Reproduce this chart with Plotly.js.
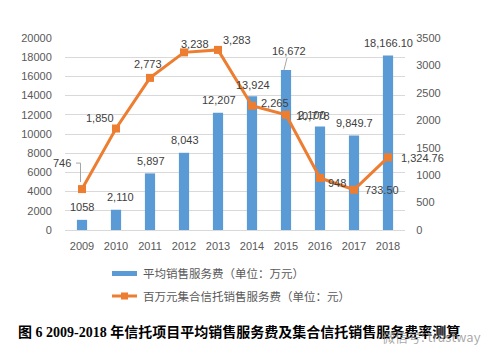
<!DOCTYPE html>
<html><head><meta charset="utf-8">
<script src="https://cdn.plot.ly/plotly-3.0.1.min.js"></script>
<style>html,body{margin:0;padding:0;background:#fff}#chart{width:504px;height:359px}</style>
</head><body><div id="chart"></div>
<script>
// ---- data ----
const years = ['2009','2010','2011','2012','2013','2014','2015','2016','2017','2018'];
const avgFee = [1058, 2110, 5897, 8043, 12207, 13924, 16672, 10778, 9849.7, 18166.10];
const avgFeeLabels = ['1058','2,110','5,897','8,043','12,207','13,924','16,672','10,778','9,849.7','18,166.10'];
const perMillionFee = [746, 1850, 2773, 3238, 3283, 2265, 2100, 948, 733.50, 1324.76];
const perMillionLabels = ['746','1,850','2,773','3,238','3,283','2,265','2,100','948','733.50','1,324.76'];
const leftTicks = [0,2000,4000,6000,8000,10000,12000,14000,16000,18000,20000];
const rightTicks = [0,500,1000,1500,2000,2500,3000,3500];
const barName = '平均销售服务费（单位：万元）';
const lineName = '百万元集合信托销售服务费（单位：元）';
const caption = '图 6 2009-2018 年信托项目平均销售服务费及集合信托销售服务费率测算';
const watermark = '微信号: trustway';

// ---- layout helpers (pixel -> paper) ----
const L = 65, R = 405, T = 38, B = 230;
const px = p => (p - L) / (R - L);
const py = p => (B - p) / (B - T);

const BLUE = '#5B9BD5', ORANGE = '#ED7D31', GRAY = '#595959', GRID = '#D9D9D9';
const numFont = {family: 'Liberation Sans, Arial, sans-serif', size: 11, color: '#404040'};

const barShift = [[0,13],[4,13],[1,12],[1,13],[1,13],[1,11],[3,19],[-7,11],[0,12],[0,13]];
const lineShift = [[-20,26],[-16,11],[-2,14],[11,8],[19,10],[23,3],[26,0],[17,-5],[28,0],[34,-1]];

const annotations = [];
years.forEach((yr, i) => {
  annotations.push({x: i, y: avgFee[i], xref: 'x', yref: 'y', text: avgFeeLabels[i],
    showarrow: false, xshift: barShift[i][0], yshift: barShift[i][1], font: numFont});
  annotations.push({x: i, y: perMillionFee[i], xref: 'x', yref: 'y2', text: perMillionLabels[i],
    showarrow: false, xshift: lineShift[i][0], yshift: lineShift[i][1], font: numFont});
});
// legend (custom)
const legFont = {family: 'Noto Sans CJK SC, sans-serif', size: 11.5, color: GRAY};
annotations.push({xref:'paper', yref:'paper', x: px(141), y: py(273), xanchor:'left', yanchor:'middle',
  text: barName, showarrow:false, font: legFont});
annotations.push({xref:'paper', yref:'paper', x: px(141), y: py(296), xanchor:'left', yanchor:'middle',
  text: lineName, showarrow:false, font: legFont});
// caption
annotations.push({xref:'paper', yref:'paper', x: px(16), y: py(332), xanchor:'left', yanchor:'middle',
  text: '<b>' + caption + '</b>', showarrow:false,
  font: {family: 'Liberation Serif, Noto Sans CJK SC, serif', size: 14, color: '#000'}});
annotations.push({xref:'paper', yref:'paper', x: px(380), y: py(336), xanchor:'left', yanchor:'middle',
  text: watermark, showarrow:false,
  font: {family: 'Noto Sans CJK SC, sans-serif', size: 13, color: 'rgba(140,140,140,0.75)'}});

const shapes = [
  // legend symbols
  {type:'rect', xref:'paper', yref:'paper', x0: px(112), x1: px(137), y0: py(276), y1: py(271),
    fillcolor: BLUE, line:{width:0}},
  {type:'line', xref:'paper', yref:'paper', x0: px(112), x1: px(137), y0: py(296), y1: py(296),
    line:{color: ORANGE, width:3}},
  {type:'rect', xref:'paper', yref:'paper', x0: px(121), x1: px(128), y0: py(299.5), y1: py(292.5),
    fillcolor: ORANGE, line:{width:0}},
  // leader line for 2009 line label
  {type:'line', xref:'x', yref:'y2', xsizemode:'pixel', ysizemode:'pixel', xanchor: 0, yanchor: perMillionFee[0],
    x0:-6, x1:-1.5, y0:26, y1:26, line:{color:'#A6A6A6', width:1}},
  {type:'line', xref:'x', yref:'y2', xsizemode:'pixel', ysizemode:'pixel', xanchor: 0, yanchor: perMillionFee[0],
    x0:-1.5, x1:-1.5, y0:26, y1:7, line:{color:'#A6A6A6', width:1}},
  // leader line for 2015 bar label
  {type:'line', xref:'x', yref:'y', xsizemode:'pixel', ysizemode:'pixel', xanchor: 6, yanchor: avgFee[6],
    x0:1, x1:-2, y0:12, y1:0, line:{color:'#A6A6A6', width:1}}
];

const traces = [
  {type:'bar', x: years, y: avgFee, name: barName, marker:{color: BLUE}, width: 0.3, yaxis:'y'},
  {type:'scatter', mode:'lines+markers', x: years, y: perMillionFee, name: lineName, yaxis:'y2',
    line:{color: ORANGE, width:3}, marker:{symbol:'square', size:8, color: ORANGE}}
];

const layout = {
  width: 504, height: 359,
  margin: {l: L, r: 504 - R, t: T, b: 359 - B, pad: 0},
  paper_bgcolor: '#fff', plot_bgcolor: '#fff',
  showlegend: false,
  font: numFont,
  xaxis: {type:'category', categoryorder:'array', categoryarray: years, range:[-0.5, 9.5], autorange:false,
    showgrid:false, showline:true, linecolor: GRID, linewidth:1,
    ticks:'outside', ticklen:6, tickcolor:'rgba(0,0,0,0)', tickfont:{...numFont, color: GRAY}},
  yaxis: {range:[0,20000], autorange:false, tickvals: leftTicks, ticktext: leftTicks.map(String), showgrid:true, gridcolor: GRID,
    gridwidth:1, zeroline:false, showline:false, ticks:'outside', ticklen:10, tickcolor:'rgba(0,0,0,0)',
    tickfont:{...numFont, color: GRAY}},
  yaxis2: {range:[0,3500], autorange:false, tickvals: rightTicks, ticktext: rightTicks.map(String), overlaying:'y', side:'right',
    showgrid:false, zeroline:false, showline:false, ticks:'outside', ticklen:8, tickcolor:'rgba(0,0,0,0)',
    tickfont:{...numFont, color: GRAY}},
  annotations, shapes
};

Plotly.newPlot('chart', traces, layout, {displayModeBar:false, staticPlot:true});
</script>
</body></html>
